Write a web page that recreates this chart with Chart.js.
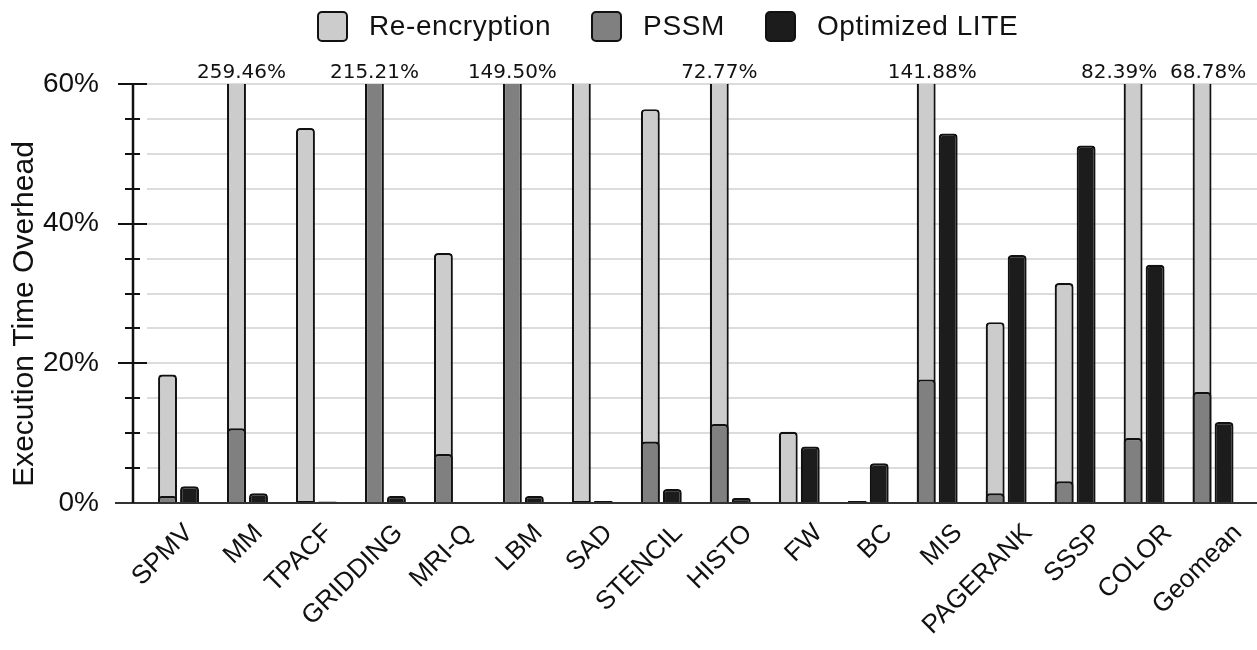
<!DOCTYPE html>
<html>
<head>
<meta charset="utf-8">
<title>Execution Time Overhead</title>
<script src="https://cdn.jsdelivr.net/npm/chart.js@4.4.0/dist/chart.umd.min.js"></script>
<style>
  html, body { margin: 0; padding: 0; background: #fff; }
  #wrap { position: relative; width: 1257px; height: 650px; }
  #legend {
    position: absolute; top: 10px; left: 317px;
    display: flex; align-items: center;
    font-family: "Liberation Sans", Arial, sans-serif;
    font-size: 28px; color: #111; letter-spacing: 0.6px;
  }
  .item { display: flex; align-items: center; margin-right: 40px; }
  .box {
    width: 27px; height: 27px; border: 2px solid #111; border-radius: 5px;
    margin-right: 21px; box-sizing: content-box;
  }
</style>
</head>
<body>
<div id="wrap">
  <canvas id="chart" width="1257" height="650"></canvas>
  <div id="legend"></div>
</div>
<script>
// ── Data ──────────────────────────────────────────────────────────
const CATEGORIES = [
  "SPMV", "MM", "TPACF", "GRIDDING", "MRI-Q", "LBM", "SAD", "STENCIL",
  "HISTO", "FW", "BC", "MIS", "PAGERANK", "SSSP", "COLOR", "Geomean",
];
// overhead in %, values above the axis max are clipped and labelled
const REENC = [18.4, 259.46, 53.7, null, 35.8, null, 62, 56.4, 72.77, 10.2, 0.3, 141.88, 25.9, 31.5, 82.39, 68.78];
const PSSM  = [1.0, 10.7, 0.3, 215.21, 7.0, 149.50, 0.3, 8.8, 11.3, 0, 0.3, 17.7, 1.4, 3.1, 9.3, 15.9];
const LITE  = [2.4, 1.4, 0.2, 1.0, 0, 1.0, 0.3, 2.0, 0.7, 8.1, 5.7, 52.9, 35.5, 51.2, 34.1, 11.6];
const OVER_LABELS = ["", "259.46%", "", "215.21%", "", "149.50%", "", "", "72.77%", "", "", "141.88%", "", "", "82.39%", "68.78%"];
const Y_TICKS = [0, 20, 40, 60];
const Y_MAX = 60;

const SERIES = [
  { label: "Re-encryption",  data: REENC, color: "#cccccc", stack: "a", order: 2 },
  { label: "PSSM",           data: PSSM,  color: "#808080", stack: "a", order: 0 },
  { label: "Optimized LITE", data: LITE,  color: "#1c1c1c", stack: "b", order: 1 },
];

const SANS = '"Liberation Sans", Arial, sans-serif';

// ── Legend (HTML) ─────────────────────────────────────────────────
const legendEl = document.getElementById("legend");
SERIES.forEach((s) => {
  const item = document.createElement("div");
  item.className = "item";
  item.innerHTML = `<span class="box" style="background:${s.color}"></span><span>${s.label}</span>`;
  legendEl.appendChild(item);
});

// ── Axis decoration: grid, axis lines, tick marks, labels ────────
const axisDecor = {
  id: "axisDecor",
  beforeDatasetsDraw(chart) {
    const { ctx, chartArea, scales: { y } } = chart;
    ctx.save();
    ctx.strokeStyle = "#dcdcdc";
    ctx.lineWidth = 2;
    for (let v = 5; v <= Y_MAX; v += 5) {
      const py = Math.round(y.getPixelForValue(v));
      ctx.beginPath();
      ctx.moveTo(chartArea.left + 14, py);
      ctx.lineTo(chartArea.right, py);
      ctx.stroke();
    }
    ctx.restore();
  },
  afterDatasetsDraw(chart) {
    const { ctx, chartArea, scales: { y } } = chart;
    const left = chartArea.left;
    ctx.save();

    // x axis line
    ctx.strokeStyle = "#333";
    ctx.lineWidth = 2;
    ctx.beginPath();
    ctx.moveTo(left - 18, chartArea.bottom);
    ctx.lineTo(chartArea.right, chartArea.bottom);
    ctx.stroke();

    // y axis line + ticks
    ctx.strokeStyle = "#111";
    ctx.lineWidth = 2.5;
    ctx.beginPath();
    ctx.moveTo(left, chartArea.top);
    ctx.lineTo(left, chartArea.bottom);
    ctx.stroke();
    ctx.lineWidth = 2;
    for (let v = 5; v <= Y_MAX; v += 5) {
      const py = Math.round(y.getPixelForValue(v));
      const major = Y_TICKS.includes(v);
      ctx.beginPath();
      ctx.moveTo(left - (major ? 15 : 8), py);
      ctx.lineTo(left + (major ? 14 : 7), py);
      ctx.stroke();
    }

    // labels for clipped bars
    const meta = chart.getDatasetMeta(1);
    ctx.fillStyle = "#111";
    ctx.font = '20px "DejaVu Sans", Verdana, sans-serif';
    ctx.textAlign = "center";
    ctx.textBaseline = "alphabetic";
    const nudge = { 1: 5, 11: 6, 14: -14, 15: 6 };
    OVER_LABELS.forEach((txt, i) => {
      if (!txt) return;
      ctx.fillText(txt, meta.data[i].x + (nudge[i] || 0), chartArea.top - 6);
    });

    // y title
    ctx.font = `30px ${SANS}`;
    ctx.textAlign = "center";
    ctx.translate(33, 314);
    ctx.rotate(-Math.PI / 2);
    ctx.fillText("Execution Time Overhead", 0, 0);
    ctx.restore();
  },
};

// ── Chart ─────────────────────────────────────────────────────────
new Chart(document.getElementById("chart"), {
  type: "bar",
  data: {
    datasets: SERIES.map((s) => ({
      label: s.label,
      data: s.data.map((v, i) => ({ x: i, y: v })),
      backgroundColor: s.color,
      borderColor: "#111",
      borderWidth: 2.2,
      borderRadius: 4,
      borderSkipped: "start",
      inflateAmount: 0,
      stack: s.stack,
      order: s.order,
      clip: 0,
      barPercentage: 0.86,
      categoryPercentage: 0.638,
    })),
  },
  plugins: [axisDecor],
  options: {
    responsive: false,
    animation: false,
    layout: { padding: { top: 84, left: 0, right: 0, bottom: 0 } },
    scales: {
      x: {
        type: "linear",
        offset: false,
        min: -0.66,
        max: 15.637,
        // rotated labels sit a little right of each group, as in the source figure
        afterBuildTicks: (axis) => {
          axis.ticks = CATEGORIES.map((_, i) => ({ value: i * 1.014 + 0.15 }));
        },
        afterFit: (axis) => {
          axis.height = 147;
          axis.paddingLeft = 0;
          axis.paddingRight = 0;
        },
        ticks: {
          autoSkip: false,
          minRotation: 45,
          maxRotation: 45,
          padding: 7,
          color: "#111",
          font: { family: SANS, size: 26 },
          callback: (v, idx) => CATEGORIES[idx],
        },
        grid: { display: false },
        border: { display: false },
      },
      y: {
        stacked: false,
        min: 0,
        max: Y_MAX,
        afterFit: (axis) => { axis.width = 133; },
        afterBuildTicks: (axis) => {
          axis.ticks = Y_TICKS.map((v) => ({ value: v }));
        },
        ticks: {
          padding: 34,
          color: "#111",
          font: { family: SANS, size: 28 },
          callback: (v) => v + "%",
        },
        grid: { display: false, drawTicks: false },
        border: { display: false },
      },
    },
    plugins: {
      legend: { display: false },
      tooltip: { enabled: false },
    },
  },
});
</script>
</body>
</html>
